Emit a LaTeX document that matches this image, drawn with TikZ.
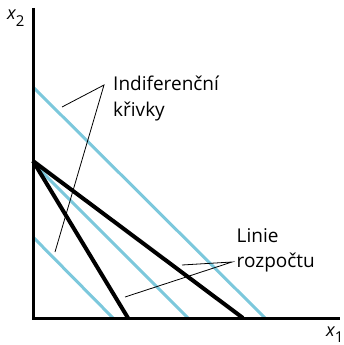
\documentclass[tikz,border=0pt]{standalone}
\usepackage{fontspec}
\setmainfont{Open Sans}
\definecolor{icblue}{HTML}{7CC8DC}
\begin{document}
\begin{tikzpicture}[x=1pt,y=-1pt,
  axis/.style={line width=3pt},
  budget/.style={line width=4pt},
  indif/.style={line width=3pt,icblue},
  leader/.style={line width=0.8pt},
  lbl/.style={inner sep=0pt,anchor=base west,font=\fontsize{19}{26}\selectfont},
  axlbl/.style={inner sep=0pt,anchor=base west,font=\fontsize{18}{20}\selectfont}]
\useasboundingbox (0,0) rectangle (343,345);
% indifference curves
\coordinate (i1a) at (33,237); \coordinate (i1b) at (113,318);
\coordinate (i2a) at (33,163); \coordinate (i2b) at (188,318);
\coordinate (i3a) at (33,87);  \coordinate (i3b) at (265,318);
\draw[indif] (i1a) -- (i1b);
\draw[indif] (i2a) -- (i2b);
\draw[indif] (i3a) -- (i3b);
% budget lines
\coordinate (A) at (33,161);
\coordinate (B) at (128,318);
\coordinate (C) at (243,318);
\draw[budget] (A) -- (B);
\draw[budget] (A) -- (C);
% axes
\coordinate (ytop) at (33,8);
\coordinate (O) at (33,318);
\coordinate (xend) at (340,318);
\draw[axis] (ytop) -- (O) -- (xend);
% labels
\node[axlbl] (x2) at (7,20) {\itshape x\raisebox{-0.35em}{\fontsize{15}{15}\selectfont\upshape 2}};
\node[axlbl] (x1) at (326,336) {\itshape x\raisebox{-0.35em}{\fontsize{15}{15}\selectfont\upshape 1}};
\node[lbl] (ic1) at (113,90.7) {Indiferenční};
\node[lbl] (ic2) at (113,116.7) {křivky};
\node[lbl] (bl1) at (236.5,242.7) {Linie};
\node[lbl] (bl2) at (236.5,267.5) {rozpočtu};
% leaders
\coordinate (p1) at (104,85);
\coordinate (q1) at (62,107);
\coordinate (q2) at (55,252);
\draw[leader] (q1) -- (p1) -- (q2);
\coordinate (p2) at (232,262);
\coordinate (r1) at (182,265);
\coordinate (r2) at (125,297);
\draw[leader] (r1) -- (p2) -- (r2);
\end{tikzpicture}
\end{document}
